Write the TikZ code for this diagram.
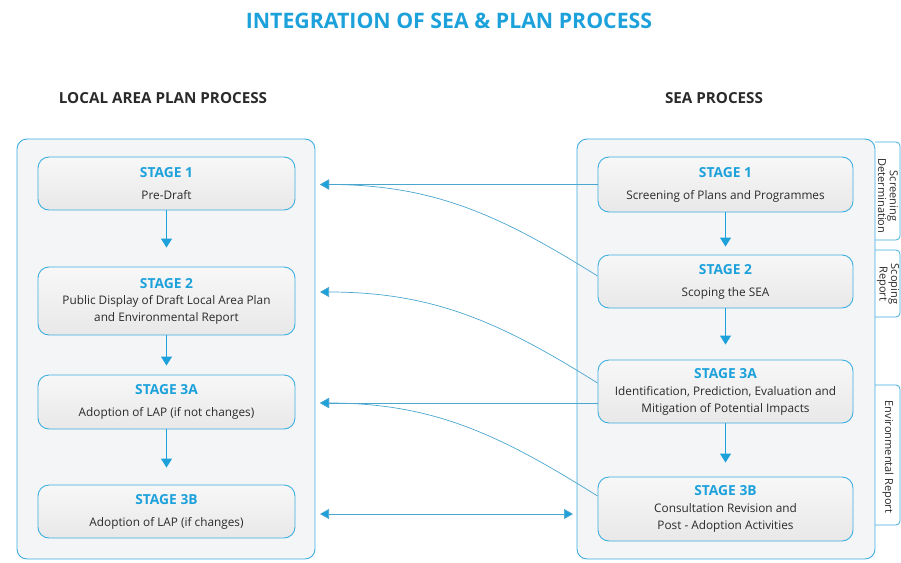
\documentclass[tikz,border=0pt]{standalone}
\usepackage{fontspec}
\setmainfont{Open Sans}
\usepackage{tikz}
\usetikzlibrary{arrows.meta}
\usetikzlibrary{calc}
\definecolor{linecolor}{HTML}{3DAEE0}
\definecolor{stagecolor}{HTML}{1DA1DB}
\definecolor{conncolor}{HTML}{4AA6CE}
\definecolor{panelfill}{HTML}{F4F5F7}
\definecolor{textgray}{HTML}{2A2A2A}
\tikzset{
  panel/.style={draw=linecolor, line width=0.9pt, fill=panelfill, rounded corners=10pt},
  stagebox/.style={draw=linecolor, line width=0.9pt, rounded corners=11pt,
    top color=gray!6, bottom color=gray!18, align=center, text=textgray,
    font=\fontsize{11.8}{22}\selectfont},
  flow/.style={draw=linecolor, line width=1pt, -{Triangle[length=9pt,width=11pt]}, stagecolor},
  conn/.style={draw=conncolor, line width=0.7pt, -{Triangle[length=9pt,width=10pt,fill=stagecolor]}},
  tab/.style={draw=linecolor, line width=0.8pt, fill=white, rounded corners=4pt},
  tabtext/.style={rotate=-90, align=center, text=textgray, font=\fontsize{11}{9.5}\selectfont}
}
\newcommand{\stagename}[1]{{\color{stagecolor}\fontsize{13.8}{15}\selectfont\bfseries #1}}
\begin{document}
\begin{tikzpicture}[x=1pt,y=-1pt]
\useasboundingbox (0,0) rectangle (901,562);
% titles
\node[text=stagecolor, font=\fontsize{21.3}{24}\selectfont\bfseries] (title) at (449,21) {INTEGRATION OF SEA \& PLAN PROCESS};
\node[text=textgray, font=\fontsize{15.2}{17}\selectfont\bfseries] (lhead) at (163,98) {LOCAL AREA PLAN PROCESS};
\node[text=textgray, font=\fontsize{15.2}{17}\selectfont\bfseries] (shead) at (714,98) {SEA PROCESS};
% side tabs
\draw[tab] (875,142) -| (900,240) -- (875,240);
\draw[tab] (875,250) -| (900,317) -- (875,317);
\draw[tab] (875,385) -| (900,525) -- (875,525);
\node[tabtext] (t1) at (888,196) {Screening\\Determination};
\node[tabtext] (t2) at (888,284) {Scoping\\Report};
\node[tabtext] (t3) at (888,457) {Environmental Report};
% panels
\node[panel, minimum width=298pt, minimum height=420pt] (lap) at (166,349) {};
\node[panel, minimum width=298pt, minimum height=420pt] (sea) at (726,349) {};
% local area plan stages
\node[stagebox, minimum width=257pt, minimum height=53pt] (l1) at (166.5,183.5) {\stagename{STAGE 1}\\Pre-Draft};
\node[stagebox, minimum width=257pt, minimum height=68pt, font=\fontsize{11.8}{16.5}\selectfont] (l2) at (166.5,301) {\stagename{STAGE 2}\\Public Display of Draft Local Area Plan\\and Environmental Report};
\node[stagebox, minimum width=257pt, minimum height=54pt] (l3a) at (166.5,402) {\stagename{STAGE 3A}\\Adoption of LAP (if not changes)};
\node[stagebox, minimum width=257pt, minimum height=53pt] (l3b) at (166.5,511.5) {\stagename{STAGE 3B}\\Adoption of LAP (if changes)};
% sea stages
\node[stagebox, minimum width=255pt, minimum height=55pt] (s1) at (725.5,184.5) {\stagename{STAGE 1}\\Screening of Plans and Programmes};
\node[stagebox, minimum width=255pt, minimum height=53pt] (s2) at (725.5,281.5) {\stagename{STAGE 2}\\Scoping the SEA};
\node[stagebox, minimum width=255pt, minimum height=63pt, font=\fontsize{11.8}{17}\selectfont] (s3a) at (725.5,391.5) {\stagename{STAGE 3A}\\Identification, Prediction, Evaluation and\\Mitigation of Potential Impacts};
\node[stagebox, minimum width=255pt, minimum height=64pt, font=\fontsize{11.8}{17}\selectfont] (s3b) at (725.5,509) {\stagename{STAGE 3B}\\Consultation Revision and\\Post - Adoption Activities};
% down arrows
\draw[flow, shorten >=19pt] (l1) -- (l2);
\draw[flow, shorten >=9pt] (l2) -- (l3a);
\draw[flow, shorten >=17pt] (l3a) -- (l3b);
\draw[flow, shorten >=8pt] (s1) -- (s2);
\draw[flow, shorten >=15pt] (s2) -- (s3a);
\draw[flow, shorten >=14pt] (s3a) -- (s3b);
% ends of the connectors
\coordinate (e1) at (320,184.5);
\coordinate (e2) at (320,292);
\coordinate (e3) at (320,403);
\coordinate (e4) at (320,514);
\coordinate (e5) at (573,514);
\draw[conn] (s1.west) -- (e1);
\draw[conn] ([yshift=5.5pt]s2.west) to[out=148,in=0] (e1);
\draw[conn] ([yshift=8.5pt]s3a.west) to[out=148,in=0] (e2);
\draw[conn] ([yshift=-11.5pt]s3a.west) -- (e3);
\draw[conn] ([yshift=13pt]s3b.west) to[out=148,in=0] (e3);
\draw[conn, {Triangle[length=9pt,width=10pt,fill=stagecolor]}-{Triangle[length=9pt,width=10pt,fill=stagecolor]}] (e4) -- (e5);
\end{tikzpicture}
\end{document}
